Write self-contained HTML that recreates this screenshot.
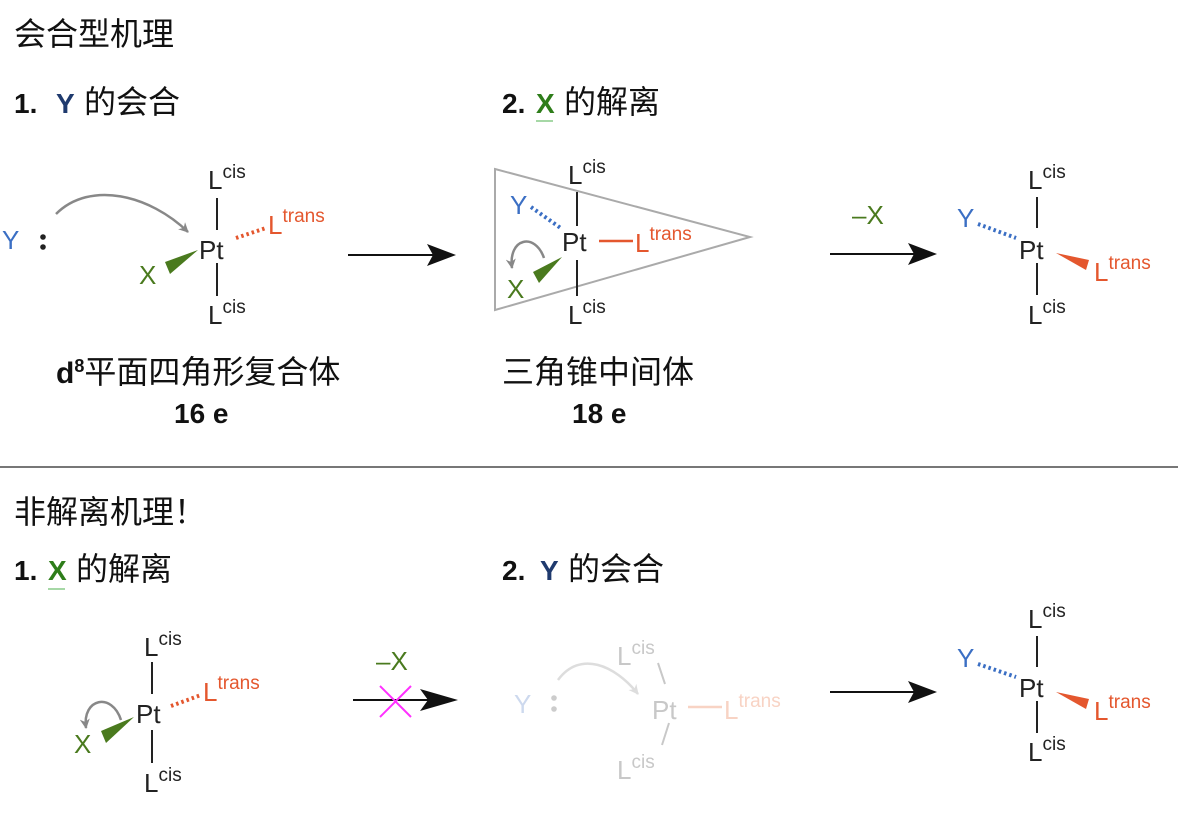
<!DOCTYPE html>
<html><head><meta charset="utf-8"><style>
html,body{margin:0;padding:0;background:#fff;}
svg{display:block;}
.cj{font-family:"Liberation Sans","Noto Sans CJK SC",sans-serif;}
.m{font-family:"Liberation Sans",sans-serif;}
</style></head><body>
<svg width="1178" height="814" viewBox="0 0 1178 814" xmlns="http://www.w3.org/2000/svg">
<defs>
<marker id="ah" markerWidth="10" markerHeight="10" refX="9" refY="5" orient="auto" markerUnits="userSpaceOnUse" viewBox="0 0 10 10"><path d="M0,0 L10,5 L0,10 L3,5Z" fill="#888"/></marker>
<marker id="ahl" markerWidth="10" markerHeight="10" refX="9" refY="5" orient="auto" markerUnits="userSpaceOnUse" viewBox="0 0 10 10"><path d="M0,0 L10,5 L0,10 L3,5Z" fill="#ddd"/></marker>
</defs>
<g class="cj" font-size="32" fill="#111">
<text x="14" y="45">会合型机理</text>
<text x="14" y="113" font-weight="bold" font-size="28">1.</text>
<text x="56" y="113" font-weight="bold" font-size="28" fill="#1f3a6e">Y</text>
<text x="84" y="113">的会合</text>
<text x="502" y="113" font-weight="bold" font-size="28">2.</text>
<text x="536" y="113" font-weight="bold" font-size="28" fill="#2e7d1a">X</text>
<text x="564" y="113">的解离</text>
<text x="56" y="383" font-weight="bold" font-size="30">d<tspan font-size="18" dy="-11">8</tspan><tspan dy="11" font-weight="normal" font-size="32">平面四角形复合体</tspan></text>
<text x="174" y="423" font-weight="bold" font-size="28">16 e</text>
<text x="572" y="423" font-weight="bold" font-size="28">18 e</text>
<text x="502" y="383">三角锥中间体</text>
<text x="14" y="523">非解离机理！</text>
<text x="14" y="580" font-weight="bold" font-size="28">1.</text>
<text x="48" y="580" font-weight="bold" font-size="28" fill="#2e7d1a">X</text>
<text x="76" y="580">的解离</text>
<text x="502" y="580" font-weight="bold" font-size="28">2.</text>
<text x="540" y="580" font-weight="bold" font-size="28" fill="#1f3a6e">Y</text>
<text x="568" y="580">的会合</text>
</g>
<line x1="536" y1="121" x2="553" y2="121" stroke="#8c8" stroke-width="1.5"/>
<line x1="48" y1="589" x2="65" y2="589" stroke="#8c8" stroke-width="1.5"/>
<line x1="0" y1="467" x2="1178" y2="467" stroke="#777" stroke-width="2"/>

<g class="m" font-size="26">
<!-- molecule 1 -->
<text x="2" y="249" fill="#3b6fc4">Y</text>
<circle cx="43" cy="237" r="2.8" fill="#222"/><circle cx="43" cy="247" r="2.8" fill="#222"/>
<path d="M56,214 C90,180 150,195 188,232" fill="none" stroke="#888" stroke-width="2.5" marker-end="url(#ah)"/>
<text x="208" y="189" fill="#222">L<tspan font-size="19" dy="-11">cis</tspan></text>
<line x1="217" y1="198" x2="217" y2="230" stroke="#222" stroke-width="2"/>
<text x="199" y="259" fill="#222">Pt</text>
<line x1="217" y1="263" x2="217" y2="296" stroke="#222" stroke-width="2"/>
<text x="208" y="324" fill="#222">L<tspan font-size="19" dy="-11">cis</tspan></text>
<line x1="236" y1="238" x2="266" y2="228" stroke="#e4572e" stroke-width="4" stroke-dasharray="2.5,3"/>
<text x="268" y="234" fill="#e4572e">L<tspan font-size="19" dy="-12">trans</tspan></text>
<polygon points="165,262 198,250 170,274" fill="#4a7a1e"/>
<text x="139" y="284" fill="#4a7a1e">X</text>
<line x1="348" y1="255" x2="440" y2="255" stroke="#111" stroke-width="2"/>
<path d="M427,244 L456,255 L427,266 L433,255Z" fill="#111"/>

<!-- molecule 2 -->
<polygon points="495,169 750,237 495,310" fill="none" stroke="#aaa" stroke-width="2"/>
<text x="568" y="184" fill="#222">L<tspan font-size="19" dy="-11">cis</tspan></text>
<line x1="577" y1="192" x2="577" y2="226" stroke="#222" stroke-width="2"/>
<text x="562" y="251" fill="#222">Pt</text>
<line x1="577" y1="260" x2="577" y2="296" stroke="#222" stroke-width="2"/>
<text x="568" y="324" fill="#222">L<tspan font-size="19" dy="-11">cis</tspan></text>
<line x1="599" y1="241" x2="633" y2="241" stroke="#e4572e" stroke-width="2.5"/>
<text x="635" y="252" fill="#e4572e">L<tspan font-size="19" dy="-12">trans</tspan></text>
<text x="510" y="214" fill="#3b6fc4">Y</text>
<line x1="531" y1="207" x2="562" y2="229" stroke="#3b6fc4" stroke-width="4" stroke-dasharray="2.5,3"/>
<polygon points="533,272 562,257 539,283" fill="#4a7a1e"/>
<text x="507" y="298" fill="#4a7a1e">X</text>
<path d="M544,258 C535,232 508,238 512,268" fill="none" stroke="#888" stroke-width="2.5" marker-end="url(#ah)"/>

<!-- arrow -X -->
<text x="852" y="224" fill="#4a7a1e">–X</text>
<line x1="830" y1="254" x2="922" y2="254" stroke="#111" stroke-width="2"/>
<path d="M908,243 L937,254 L908,265 L914,254Z" fill="#111"/>

<!-- molecule 3 -->
<text x="1028" y="189" fill="#222">L<tspan font-size="19" dy="-11">cis</tspan></text>
<line x1="1037" y1="197" x2="1037" y2="228" stroke="#222" stroke-width="2"/>
<text x="1019" y="259" fill="#222">Pt</text>
<line x1="1037" y1="263" x2="1037" y2="295" stroke="#222" stroke-width="2"/>
<text x="1028" y="324" fill="#222">L<tspan font-size="19" dy="-11">cis</tspan></text>
<text x="957" y="227" fill="#3b6fc4">Y</text>
<line x1="978" y1="224" x2="1016" y2="238" stroke="#3b6fc4" stroke-width="4" stroke-dasharray="2.5,3"/>
<polygon points="1056,253 1089,260 1086,270" fill="#e4572e"/>
<text x="1094" y="281" fill="#e4572e">L<tspan font-size="19" dy="-12">trans</tspan></text>

<!-- bottom molecule 1 -->
<text x="144" y="656" fill="#222">L<tspan font-size="19" dy="-11">cis</tspan></text>
<line x1="152" y1="662" x2="152" y2="694" stroke="#222" stroke-width="2"/>
<text x="136" y="723" fill="#222">Pt</text>
<line x1="152" y1="730" x2="152" y2="763" stroke="#222" stroke-width="2"/>
<text x="144" y="792" fill="#222">L<tspan font-size="19" dy="-11">cis</tspan></text>
<line x1="171" y1="706" x2="201" y2="695" stroke="#e4572e" stroke-width="4" stroke-dasharray="2.5,3"/>
<text x="203" y="701" fill="#e4572e">L<tspan font-size="19" dy="-12">trans</tspan></text>
<polygon points="101,731 134,717 106,743" fill="#4a7a1e"/>
<text x="74" y="753" fill="#4a7a1e">X</text>
<path d="M121,720 C112,692 82,698 86,728" fill="none" stroke="#888" stroke-width="2.5" marker-end="url(#ah)"/>

<!-- crossed arrow -->
<text x="376" y="670" fill="#4a7a1e">–X</text>
<line x1="353" y1="700" x2="440" y2="700" stroke="#111" stroke-width="2"/>
<path d="M420,689 L458,700 L420,711 L428,700Z" fill="#111"/>
<line x1="380" y1="686" x2="411" y2="717" stroke="#ff30ff" stroke-width="2"/>
<line x1="411" y1="686" x2="380" y2="717" stroke="#ff30ff" stroke-width="2"/>

<!-- faded molecule -->
<text x="514" y="713" fill="#cdd9ee">Y</text>
<circle cx="554" cy="698" r="2.8" fill="#ccc"/><circle cx="554" cy="709" r="2.8" fill="#ccc"/>
<path d="M558,680 C580,650 615,665 638,694" fill="none" stroke="#ddd" stroke-width="2.5" marker-end="url(#ahl)"/>
<text x="617" y="665" fill="#c8c8c8">L<tspan font-size="19" dy="-11">cis</tspan></text>
<line x1="658" y1="663" x2="665" y2="684" stroke="#c8c8c8" stroke-width="2"/>
<text x="652" y="719" fill="#c8c8c8">Pt</text>
<line x1="669" y1="723" x2="662" y2="745" stroke="#c8c8c8" stroke-width="2"/>
<text x="617" y="779" fill="#c8c8c8">L<tspan font-size="19" dy="-11">cis</tspan></text>
<line x1="688" y1="707" x2="722" y2="707" stroke="#f8d3c4" stroke-width="2.5"/>
<text x="724" y="719" fill="#f8d3c4">L<tspan font-size="19" dy="-12">trans</tspan></text>

<!-- arrow -->
<line x1="830" y1="692" x2="922" y2="692" stroke="#111" stroke-width="2"/>
<path d="M908,681 L937,692 L908,703 L914,692Z" fill="#111"/>

<!-- molecule 4 -->
<text x="1028" y="628" fill="#222">L<tspan font-size="19" dy="-11">cis</tspan></text>
<line x1="1037" y1="636" x2="1037" y2="667" stroke="#222" stroke-width="2"/>
<text x="1019" y="697" fill="#222">Pt</text>
<line x1="1037" y1="701" x2="1037" y2="733" stroke="#222" stroke-width="2"/>
<text x="1028" y="761" fill="#222">L<tspan font-size="19" dy="-11">cis</tspan></text>
<text x="957" y="667" fill="#3b6fc4">Y</text>
<line x1="978" y1="664" x2="1016" y2="677" stroke="#3b6fc4" stroke-width="4" stroke-dasharray="2.5,3"/>
<polygon points="1056,692 1089,699 1086,709" fill="#e4572e"/>
<text x="1094" y="720" fill="#e4572e">L<tspan font-size="19" dy="-12">trans</tspan></text>
</g>
</svg>
</body></html>
